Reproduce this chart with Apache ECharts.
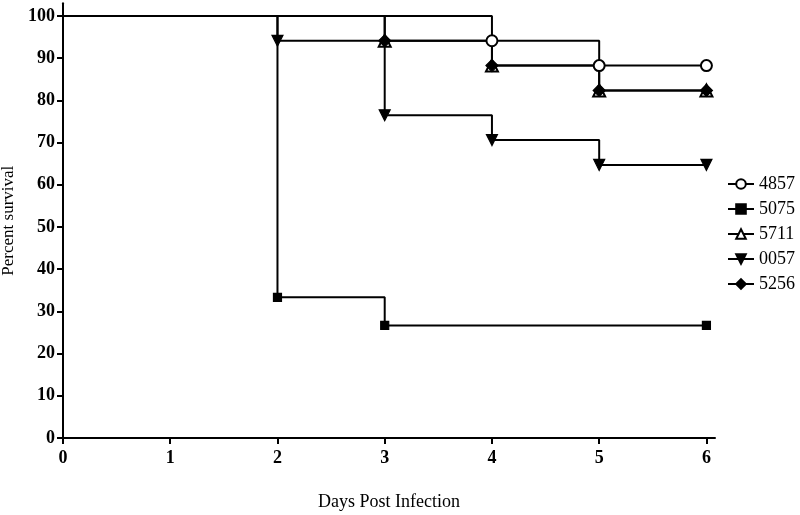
<!DOCTYPE html>
<html>
<head>
<meta charset="utf-8">
<script src="https://cdn.jsdelivr.net/npm/echarts@6/dist/echarts.min.js"></script>
<style>html,body{margin:0;padding:0;background:#fff}#c{width:800px;height:515px}</style>
</head>
<body>
<div id="c"></div>
<script>
const xTicks = [0, 1, 2, 3, 4, 5, 6];
const yTicks = [0, 10, 20, 30, 40, 50, 60, 70, 80, 90, 100];
const names = ['4857', '5075', '5711', '0057', '5256'];
const days4857 = [0, 4, 5, 6];
const surv4857 = [100, 94.12, 88.24, 88.24];
const days5075 = [0, 2, 3, 6];
const surv5075 = [100, 33.33, 26.67, 26.67];
const days5711 = [0, 3, 4, 5, 6];
const surv5711 = [100, 94.12, 88.24, 82.35, 82.35];
const days0057 = [0, 2, 3, 4, 5, 6];
const surv0057 = [100, 94.12, 76.47, 70.59, 64.71, 64.71];
const days5256 = [0, 3, 4, 5, 6];
const surv5256 = [100, 94.12, 88.24, 82.35, 82.35];

const font = '"Liberation Serif", "Times New Roman", serif';
const sets = [
  [days4857, surv4857, 'emptyCircle', 11, 0],
  [days5075, surv5075, 'rect', 8, 0],
  [days5711, surv5711, 'emptyTriangle', 12, 0],
  [days0057, surv0057, 'triangle', 11, 180],
  [days5256, surv5256, 'diamond', 12, 0]
];
const series = sets.map((s, i) => ({
  name: names[i],
  type: 'line',
  step: 'end',
  symbol: s[2],
  symbolSize: s[3],
  symbolRotate: s[4],
  showAllSymbol: true,
  lineStyle: { color: '#000', width: 2 },
  itemStyle: { color: '#000', borderColor: '#000', borderWidth: 1.2 },
  emphasis: { disabled: true },
  data: s[0].map((d, j) => j === 0 ? { value: [d, s[1][j]], symbol: 'none' } : [d, s[1][j]])
}));

const chart = echarts.init(document.getElementById('c'));
chart.setOption({
  animation: false,
  grid: { left: 63, right: 85, top: 3.3, bottom: 77, outerBoundsMode: 'none', containLabel: false },
  legend: {
    orient: 'vertical', left: 722, top: 170,
    itemWidth: 26, itemHeight: 12, itemGap: 7,
    textStyle: { fontFamily: font, fontSize: 18, color: '#000' },
    data: names
  },
  xAxis: {
    type: 'value', min: 0, max: 6.08,
    name: 'Days Post Infection', nameLocation: 'middle', nameGap: 55,
    nameTextStyle: { fontFamily: font, fontSize: 18, color: '#000' },
    splitLine: { show: false },
    axisLine: { lineStyle: { color: '#000', width: 2 } },
    axisTick: { customValues: xTicks, length: 6, lineStyle: { color: '#000', width: 2 } },
    axisLabel: { customValues: xTicks, fontFamily: font, fontSize: 18, fontWeight: 'bold', color: '#000', margin: 11 }
  },
  yAxis: {
    type: 'value', min: 0, max: 103,
    name: 'Percent survival', nameLocation: 'middle', nameGap: 44,
    nameTextStyle: { fontFamily: font, fontSize: 17, color: '#000' },
    splitLine: { show: false },
    axisLine: { lineStyle: { color: '#000', width: 2 } },
    axisTick: { customValues: yTicks, length: 6, lineStyle: { color: '#000', width: 2 } },
    axisLabel: { customValues: yTicks, fontFamily: font, fontSize: 18, fontWeight: 'bold', color: '#000', margin: 8 }
  },
  series: series
});
</script>
</body>
</html>
